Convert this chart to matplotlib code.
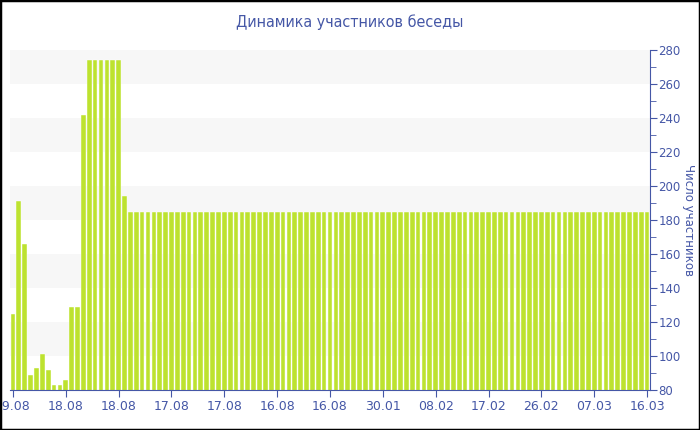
import numpy as np
import matplotlib
matplotlib.use('Agg')
import matplotlib.pyplot as plt
from matplotlib.patches import Rectangle
from matplotlib.ticker import MultipleLocator

# participants per day
values = [125, 191, 166, 89, 93, 101, 92, 83, 83, 86,
          129, 129, 242, 274, 274, 274, 274, 274, 274, 194,
          185, 185, 185, 185, 185, 185, 185, 185, 185, 185,
          185, 185, 185, 185, 185, 185, 185, 185, 185, 185,
          185, 185, 185, 185, 185, 185, 185, 185, 185, 185,
          185, 185, 185, 185, 185, 185, 185, 185, 185, 185,
          185, 185, 185, 185, 185, 185, 185, 185, 185, 185,
          185, 185, 185, 185, 185, 185, 185, 185, 185, 185,
          185, 185, 185, 185, 185, 185, 185, 185, 185, 185,
          185, 185, 185, 185, 185, 185, 185, 185, 185, 185,
          185, 185, 185, 185, 185, 185, 185, 185, 185]
tick_labels = ['19.08', '18.08', '18.08', '17.08', '17.08', '16.08',
               '16.08', '30.01', '08.02', '17.02', '26.02', '07.03', '16.03']
tick_step = 9

title = 'Динамика участников беседы'
ylabel = 'Число участников'

bar_color = '#bde22f'
text_color = '#4557a6'
band_color = '#f7f7f7'

fig = plt.figure(figsize=(7, 4.3), dpi=100)
ax = fig.add_axes([10 / 700, 1 - 390 / 430, 640 / 700, 340 / 430])

x = np.arange(len(values))
ax.set_xlim(-0.5, len(values) - 0.5)
ax.set_ylim(80, 280)

# alternating bands
for lo in range(100, 280, 40):
    ax.axhspan(lo, lo + 20, color=band_color, zorder=0, lw=0)

ax.bar(x, values, width=0.8, color=bar_color,
       edgecolor='white', linewidth=0.3, zorder=2)

ax.set_xticks(x[::tick_step])
ax.set_xticklabels(tick_labels)
ax.yaxis.tick_right()
ax.yaxis.set_label_position('right')
ax.set_yticks(range(80, 281, 20))
ax.yaxis.set_minor_locator(MultipleLocator(10))

for s in ['top', 'left']:
    ax.spines[s].set_visible(False)
ax.spines['bottom'].set_color(text_color)
ax.spines['right'].set_color(text_color)
ax.spines['bottom'].set_zorder(3)

ax.tick_params(axis='x', colors=text_color, labelsize=9, length=5, pad=2)
ax.tick_params(axis='y', which='major', colors=text_color, labelsize=8.5,
               length=5, pad=1)
ax.tick_params(axis='y', which='minor', colors=text_color, length=4)

ax.set_ylabel(ylabel, rotation=270, color=text_color, fontsize=8.5, labelpad=10)

fig.text(0.5, 1 - 22 / 430, title, ha='center', va='center', color=text_color,
         fontsize=11.5, family=['DejaVu Sans Condensed', 'DejaVu Sans'],
         stretch='condensed')

fig.patches.append(Rectangle((0, 0), 1, 1, transform=fig.transFigure,
                             fill=False, edgecolor='black', linewidth=2.5))

fig.savefig('out.png', dpi=100, facecolor='white')
